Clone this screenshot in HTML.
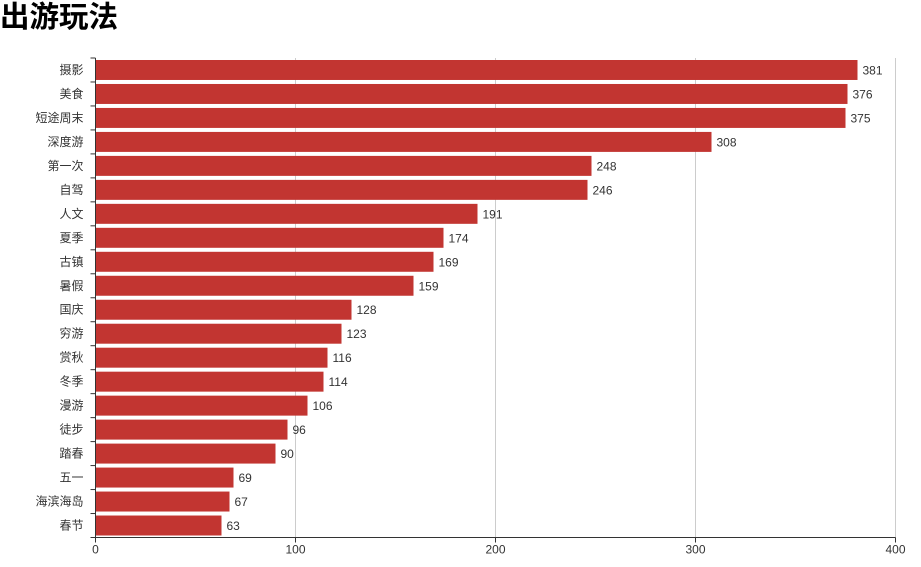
<!DOCTYPE html>
<html><head><meta charset="utf-8"><style>
body{margin:0;background:#fff;}
svg{display:block;font-family:"Liberation Sans","Noto Sans CJK SC",sans-serif;}
</style></head><body>
<svg id="c" width="921" height="567">
<text x="0" y="27" font-size="29.5" font-weight="bold" fill="#000">出游玩法</text>
</svg>
<script>
const categories=["摄影","美食","短途周末","深度游","第一次","自驾","人文","夏季","古镇","暑假","国庆","穷游","赏秋","冬季","漫游","徒步","踏春","五一","海滨海岛","春节"];
const values=[381,376,375,308,248,246,191,174,169,159,128,123,116,114,106,96,90,69,67,63];
const xTicks=[0,100,200,300,400];
const svg=document.getElementById('c');
const NS='http://www.w3.org/2000/svg';
const x0=95.5,x1=895.5,y0=58,y1=537.5;
const xs=v=>x0+(v-0)/(400)*(x1-x0);
const band=(y1-y0)/categories.length;
function mk(t,a){const e=document.createElementNS(NS,t);for(const k in a)e.setAttribute(k,a[k]);svg.appendChild(e);return e;}
xTicks.forEach((t,i)=>{
 if(t>0){const g=mk('line',{x1:xs(t),x2:xs(t),y1:y0,y2:y1,stroke:'#ccc','stroke-width':1});
 
 }
 const tk=mk('line',{x1:xs(t),x2:xs(t),y1:y1,y2:y1+5,stroke:'#333'});
 
 
 const l=mk('text',{x:xs(t),y:y1+16,'text-anchor':'middle','font-size':12,fill:'#333'});
 l.textContent=t;
 
 
});
categories.forEach((c,i)=>{
 const top=y0+i*band;
 const r=mk('rect',{x:x0,y:top+2,width:xs(values[i])-x0,height:band-4,fill:'#c23531'});
 
 
 const v=mk('text',{x:xs(values[i])+5,y:top+band/2+4.5,'font-size':12,fill:'#333'});
 v.textContent=values[i];
 
 
 const l=mk('text',{x:x0-12,y:top+band/2+4,'text-anchor':'end','font-size':12,fill:'#333'});
 l.textContent=c;
 
 
});
for(let i=0;i<=categories.length;i++){
 const t=mk('line',{x1:x0-5,x2:x0,y1:y0+i*band,y2:y0+i*band,stroke:'#333'});
 
 
}
const ya=mk('line',{x1:x0,x2:x0,y1:y0,y2:y1,stroke:'#333'});


const xa=mk('line',{x1:x0-5,x2:x1,y1:y1,y2:y1,stroke:'#333'});


</script>
</body></html>
